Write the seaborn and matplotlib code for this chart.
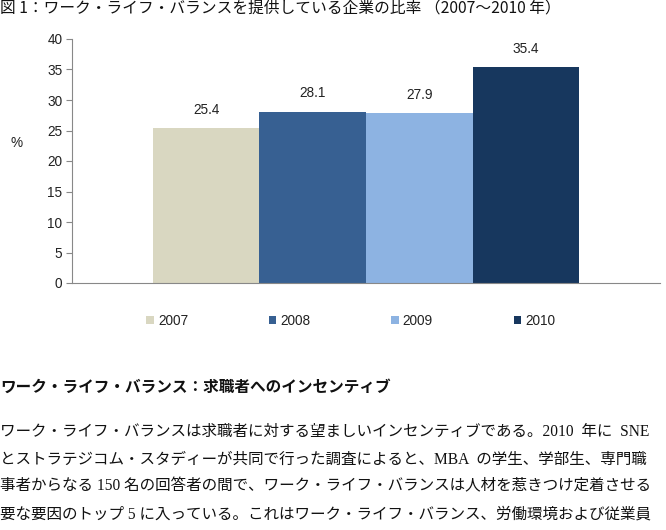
import pandas as pd
import numpy as np
import matplotlib.pyplot as plt
import seaborn as sns

# data
years = ["2007", "2008", "2009", "2010"]
shares = [25.4, 28.1, 27.9, 35.4]
bar_colors = ["#D9D7C1", "#376092", "#8DB3E2", "#17375E"]
yticks = [0, 5, 10, 15, 20, 25, 30, 35, 40]

title = "図 1：ワーク・ライフ・バランスを提供している企業の比率 （2007～2010 年）"
heading = "ワーク・ライフ・バランス：求職者へのインセンティブ"
# body lines as far as they are visible in the page crop
body_lines = [
    "ワーク・ライフ・バランスは求職者に対する望ましいインセンティブである。2010  年に  SNE",
    "とストラテジコム・スタディーが共同で行った調査によると、MBA  の学生、学部生、専門職",
    "事者からなる 150 名の回答者の間で、ワーク・ライフ・バランスは人材を惹きつけ定着させる",
    "要な要因のトップ 5 に入っている。これはワーク・ライフ・バランス、労働環境および従業員",
]

sns.set_style("white")
plt.rcParams['font.family'] = ['Liberation Sans', 'Noto Sans CJK JP']
jp = ['Noto Sans CJK JP', 'DejaVu Sans']
jp_serif = ['Liberation Serif', 'Noto Sans CJK JP']

df = pd.DataFrame({"year": years, "share": shares, "grp": [""] * len(years)})

fig = plt.figure(figsize=(6.66, 5.30), dpi=100)
ax = fig.add_axes([72 / 666, 1 - 283 / 530, 588 / 666, 244 / 530])

sns.barplot(data=df, x="grp", y="share", hue="year", palette=bar_colors,
            width=0.7245, saturation=1, linewidth=0, dodge=True, ax=ax)

for c in ax.containers:
    ax.bar_label(c, fmt="%.1f", padding=8, fontsize=9.8, color="#222222")

ax.set_ylim(0, 40)
ax.set_xlim(-0.5, 0.5)
ax.set_yticks(yticks)
ax.set_xticks([])
ax.set_xlabel("")
ax.set_ylabel("%", rotation=0, fontsize=9.8, color="#222222", va="center")
ax.yaxis.set_label_coords(-0.0935, 0.575)
ax.tick_params(axis="y", direction="out", length=4, width=0.8, color="#888888",
               labelsize=9.8, labelcolor="#222222", pad=3, left=True)
for s in ["top", "right"]:
    ax.spines[s].set_visible(False)
for s in ["left", "bottom"]:
    ax.spines[s].set_color("#888888")
    ax.spines[s].set_linewidth(0.8)

handles, labels = ax.get_legend_handles_labels()
ax.legend(handles, labels, loc="center", bbox_to_anchor=(0.474, -0.156), ncol=4,
          frameon=False, fontsize=9.8, handlelength=0.55, handleheight=0.55,
          handletextpad=0.3, columnspacing=5.93, labelcolor="#222222")

fig.text(0.0, 1 - 8 / 530, title, family=jp, fontsize=11.3, va="center", ha="left",
         color="#111111")
fig.text(0.0, 1 - 387 / 530, heading, family=jp, fontsize=11.25, weight="bold",
         va="center", ha="left", color="#111111")
for i, line in enumerate(body_lines):
    fig.text(0.0, 1 - (432 + i * 27.4) / 530, line, family=jp_serif, fontsize=11.2,
             va="center", ha="left", color="#111111")

fig.savefig("out.png", dpi=100)
